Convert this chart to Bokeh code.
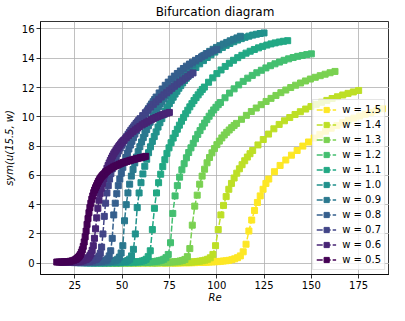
from bokeh.plotting import figure
from bokeh.models import Legend, LegendItem, FixedTicker, Range1d
from bokeh.embed import file_html
from bokeh.resources import INLINE

# ---------------- data ----------------
w_values = [1.5, 1.4, 1.3, 1.2, 1.1, 1.0, 0.9, 0.8, 0.7, 0.6, 0.5]

# Re / w sampling grid shared by all curves
r_grid = [31, 33, 35, 37, 39, 41, 43, 45, 47, 49, 51,
          52, 53, 54, 55, 56, 57, 58, 59, 60, 61, 62, 63, 64, 65, 66, 67, 68,
          69, 70, 71, 72, 73, 74, 75, 76, 77, 78, 79, 80, 81, 82, 83, 84,
          85, 87, 89, 91, 93, 95, 97, 99, 101, 103, 105, 107, 109, 111, 113,
          115, 117, 119, 121, 123, 125]

y_w05 = [0.08, 0.08, 0.08, 0.09, 0.1, 0.1, 0.11, 0.13, 0.16, 0.2, 0.26,
         0.3, 0.36, 0.42, 0.5, 0.6, 0.75, 0.92, 1.15, 1.45, 1.8, 2.2, 2.65, 3.05, 3.45, 3.8, 4.1, 4.37,
         4.6, 4.82, 5.0, 5.16, 5.3, 5.45, 5.58, 5.7, 5.8, 5.89, 5.97, 6.04, 6.1, 6.17, 6.23, 6.29,
         6.34, 6.42, 6.5, 6.58, 6.64, 6.7, 6.76, 6.82, 6.87, 6.91, 6.95, 6.99, 7.03, 7.07, 7.1,
         7.14, 7.17, 7.2, 7.23, 7.26, 7.3]
y_w06 = [0.06, 0.06, 0.06, 0.07, 0.07, 0.08, 0.09, 0.1, 0.13, 0.17, 0.24,
         0.28, 0.34, 0.41, 0.52, 0.66, 0.88, 1.2, 1.7, 2.35, 3.1, 3.75, 4.3, 4.75, 5.12, 5.45, 5.75, 6.02,
         6.26, 6.48, 6.67, 6.85, 7.02, 7.18, 7.33, 7.47, 7.6, 7.72, 7.84, 7.95, 8.05, 8.15, 8.25, 8.34,
         8.42, 8.57, 8.72, 8.86, 8.99, 9.11, 9.23, 9.34, 9.45, 9.54, 9.63, 9.72, 9.8, 9.88, 9.95,
         10.02, 10.08, 10.14, 10.2, 10.25, 10.3]
y_w07 = [0.05, 0.05, 0.05, 0.06, 0.06, 0.07, 0.08, 0.1, 0.12, 0.16, 0.23,
         0.28, 0.36, 0.48, 0.68, 1.1, 2.0, 3.2, 4.1, 4.8, 5.3, 5.75, 6.12, 6.45, 6.75, 7.02, 7.26, 7.48,
         7.68, 7.87, 8.05, 8.22, 8.38, 8.53, 8.67, 8.81, 8.94, 9.07, 9.19, 9.31, 9.43, 9.54, 9.65, 9.76,
         9.87, 10.08, 10.28, 10.48, 10.67, 10.85, 11.02, 11.19, 11.35, 11.5, 11.65, 11.79, 11.95, 12.09, 12.23,
         12.37, 12.5, 12.63, 12.76, 12.88, 13.0]
y_w08 = [0.04, 0.04, 0.04, 0.05, 0.05, 0.06, 0.07, 0.08, 0.1, 0.13, 0.17,
         0.2, 0.3, 0.5, 0.85, 1.7, 3.3, 4.1, 4.75, 5.3, 5.75, 6.15, 6.55, 6.9, 7.22, 7.52, 7.8, 8.07,
         8.33, 8.58, 8.82, 9.05, 9.27, 9.49, 9.7, 9.88, 10.05, 10.22, 10.39, 10.56, 10.73, 10.88, 11.03, 11.18,
         11.35, 11.63, 11.9, 12.15, 12.37, 12.58, 12.78, 12.96, 13.13, 13.3, 13.46, 13.6, 13.73, 13.86, 13.98,
         14.09, 14.2, 14.31, 14.41, 14.51, 14.6]
y_w09 = [0.03, 0.03, 0.03, 0.04, 0.04, 0.05, 0.06, 0.07, 0.09, 0.12, 0.16,
         0.2, 0.28, 0.42, 0.7, 1.2, 2.9, 4.0, 4.8, 5.4, 5.95, 6.4, 6.85, 7.25, 7.62, 7.96, 8.28, 8.58,
         8.86, 9.13, 9.39, 9.63, 9.86, 10.08, 10.29, 10.49, 10.69, 10.88, 11.06, 11.24, 11.41, 11.58, 11.74, 11.9,
         12.06, 12.36, 12.64, 12.9, 13.14, 13.37, 13.59, 13.79, 13.98, 14.16, 14.32, 14.47, 14.61, 14.74, 14.86,
         14.97, 15.08, 15.19, 15.29, 15.39, 15.5]
y_w10 = [0.02, 0.02, 0.02, 0.03, 0.03, 0.04, 0.04, 0.05, 0.06, 0.08, 0.1,
         0.13, 0.18, 0.28, 0.5, 0.95, 2.0, 3.8, 4.8, 5.5, 6.1, 6.62, 7.1, 7.55, 7.95, 8.32, 8.65, 8.97,
         9.3, 9.6, 9.88, 10.15, 10.4, 10.65, 10.9, 11.12, 11.34, 11.55, 11.75, 11.95, 12.13, 12.31, 12.48, 12.64,
         12.8, 13.09, 13.37, 13.62, 13.84, 14.05, 14.24, 14.42, 14.58, 14.74, 14.88, 15.01, 15.13, 15.24, 15.34,
         15.43, 15.51, 15.58, 15.64, 15.69, 15.73]
y_w11 = [0.02, 0.02, 0.02, 0.02, 0.03, 0.03, 0.03, 0.04, 0.05, 0.06, 0.08,
         0.09, 0.1, 0.12, 0.15, 0.19, 0.27, 0.45, 0.85, 2.3, 3.75, 4.8, 5.5, 6.08, 6.6, 7.07, 7.5, 7.88,
         8.23, 8.55, 8.86, 9.15, 9.43, 9.7, 9.96, 10.21, 10.45, 10.68, 10.9, 11.11, 11.31, 11.5, 11.69, 11.87,
         12.03, 12.36, 12.66, 12.95, 13.2, 13.44, 13.66, 13.86, 14.04, 14.2, 14.35, 14.48, 14.6, 14.71, 14.81,
         14.9, 14.98, 15.05, 15.11, 15.16, 15.2]
y_w12 = [0.02, 0.02, 0.02, 0.02, 0.02, 0.02, 0.03, 0.03, 0.04, 0.05, 0.06,
         0.07, 0.08, 0.09, 0.1, 0.12, 0.14, 0.17, 0.21, 0.27, 0.38, 0.6, 1.4, 3.4, 4.6, 5.3, 5.88, 6.38,
         6.8, 7.2, 7.56, 7.88, 8.19, 8.5, 8.8, 9.06, 9.32, 9.57, 9.81, 10.04, 10.26, 10.47, 10.65, 10.83,
         10.98, 11.3, 11.62, 11.91, 12.18, 12.42, 12.64, 12.83, 13.01, 13.18, 13.34, 13.49, 13.62, 13.74, 13.86,
         13.96, 14.05, 14.13, 14.19, 14.25, 14.3]
y_w13 = [0.02, 0.02, 0.02, 0.02, 0.02, 0.02, 0.02, 0.02, 0.03, 0.03, 0.03,
         0.03, 0.04, 0.05, 0.05, 0.06, 0.07, 0.08, 0.09, 0.1, 0.12, 0.15, 0.19, 0.26, 0.45, 1.0, 2.6, 3.9,
         4.65, 5.4, 5.95, 6.42, 6.86, 7.22, 7.54, 7.83, 8.1, 8.34, 8.56, 8.76, 8.94, 9.1, 9.26, 9.41,
         9.55, 9.83, 10.1, 10.36, 10.6, 10.83, 11.05, 11.26, 11.46, 11.65, 11.83, 12.0, 12.16, 12.31, 12.45,
         12.58, 12.7, 12.81, 12.91, 13.01, 13.1]
y_w14 = [0.02, 0.02, 0.02, 0.02, 0.02, 0.02, 0.02, 0.02, 0.02, 0.02, 0.02,
         0.02, 0.03, 0.03, 0.03, 0.04, 0.04, 0.05, 0.05, 0.06, 0.07, 0.08, 0.1, 0.12, 0.14, 0.17, 0.21, 0.27,
         0.37, 0.6, 1.2, 2.3, 3.3, 3.95, 4.55, 5.05, 5.45, 5.82, 6.15, 6.45, 6.73, 7.0, 7.25, 7.48,
         7.7, 8.08, 8.45, 8.82, 9.18, 9.48, 9.73, 9.95, 10.16, 10.35, 10.53, 10.7, 10.85, 10.99, 11.12,
         11.25, 11.37, 11.49, 11.6, 11.7, 11.8]
y_w15 = [0.02, 0.02, 0.02, 0.02, 0.02, 0.02, 0.02, 0.02, 0.02, 0.02, 0.02,
         0.02, 0.02, 0.02, 0.03, 0.03, 0.03, 0.04, 0.04, 0.05, 0.05, 0.06, 0.07, 0.08, 0.09, 0.1, 0.11, 0.13,
         0.15, 0.17, 0.2, 0.24, 0.3, 0.38, 0.5, 0.78, 1.3, 2.2, 2.95, 3.6, 4.15, 4.6, 5.05, 5.45,
         5.75, 6.25, 6.68, 7.05, 7.38, 7.7, 8.0, 8.28, 8.55, 8.8, 9.02, 9.22, 9.41, 9.59, 9.76,
         9.91, 10.05, 10.18, 10.3, 10.43, 10.55]

y_series = [y_w15, y_w14, y_w13, y_w12, y_w11, y_w10, y_w09, y_w08, y_w07, y_w06, y_w05]

x_ticks = [25, 50, 75, 100, 125, 150, 175]
y_ticks = [0, 2, 4, 6, 8, 10, 12, 14, 16]

# ---------------- style ----------------
colors = ["#fde725", "#bddf26", "#7ad151", "#44bf70", "#22a884", "#21918c",
          "#2a788e", "#355f8d", "#414487", "#482475", "#440154"]
FONT = "DejaVu Sans"

for ys in y_series:
    assert len(ys) == len(r_grid), len(ys)

p = figure(width=389, height=305, output_backend="svg", toolbar_location=None,
           x_range=Range1d(6.9, 191.3), y_range=Range1d(-0.77, 16.51),
           title="Bifurcation diagram")
p.min_border_left = 0
p.min_border_right = 0
p.min_border_top = 0
p.min_border_bottom = 0
p.background_fill_color = "white"
p.border_fill_color = "white"
p.outline_line_color = "black"
p.outline_line_width = 0.8

p.title.text_font = FONT
p.title.text_font_size = "12px"
p.title.text_font_style = "normal"
p.title.align = "center"
p.title.text_color = "black"
p.title.standoff = 5
p.title.text_line_height = 1.0

p.xaxis.ticker = FixedTicker(ticks=x_ticks)
p.yaxis.ticker = FixedTicker(ticks=y_ticks)
p.xaxis.axis_label = "Re"
p.yaxis.axis_label = "sym(u(15.5, w)"
for ax in (p.xaxis, p.yaxis):
    ax.axis_label_text_font = FONT
    ax.axis_label_text_font_size = "10px"
    ax.axis_label_text_font_style = "italic"
    ax.axis_label_text_color = "black"
    ax.axis_label_text_line_height = 1.0
    ax.major_label_text_font = FONT
    ax.major_label_text_font_size = "10px"
    ax.major_label_text_color = "black"
    ax.major_label_text_line_height = 1.0
    ax.axis_line_color = "black"
    ax.axis_line_width = 0.8
    ax.major_tick_line_color = "black"
    ax.major_tick_line_width = 0.8
    ax.major_tick_in = 0
    ax.major_tick_out = 4
    ax.minor_tick_line_color = None
    ax.major_label_standoff = 2
p.xaxis.axis_label_standoff = 0
p.yaxis.axis_label_standoff = 4

p.grid.grid_line_color = "#b0b0b0"
p.grid.grid_line_width = 0.8

items = []
for w, ys, c in zip(w_values, y_series, colors):
    xs = [w * r for r in r_grid]
    ln = p.line(xs, ys, line_color=c, line_width=1.5, line_dash="6 2")
    sc = p.scatter(xs, ys, marker="square", size=6, fill_color=c, line_color=c, line_width=1)
    items.append(LegendItem(label=f"w = {w}", renderers=[ln, sc]))

legend = Legend(items=items, location="bottom_right")
legend.label_text_font = FONT
legend.label_text_font_size = "10px"
legend.label_text_color = "black"
legend.label_text_line_height = 1.0
legend.glyph_width = 20
legend.glyph_height = 13
legend.label_height = 13
legend.spacing = 2
legend.padding = 3
legend.margin = 4
legend.label_standoff = 6
legend.border_line_color = "#cccccc"
legend.border_line_width = 1
legend.background_fill_color = "white"
legend.background_fill_alpha = 0.8
p.add_layout(legend)

open("out.html", "w").write(file_html(p, INLINE))
